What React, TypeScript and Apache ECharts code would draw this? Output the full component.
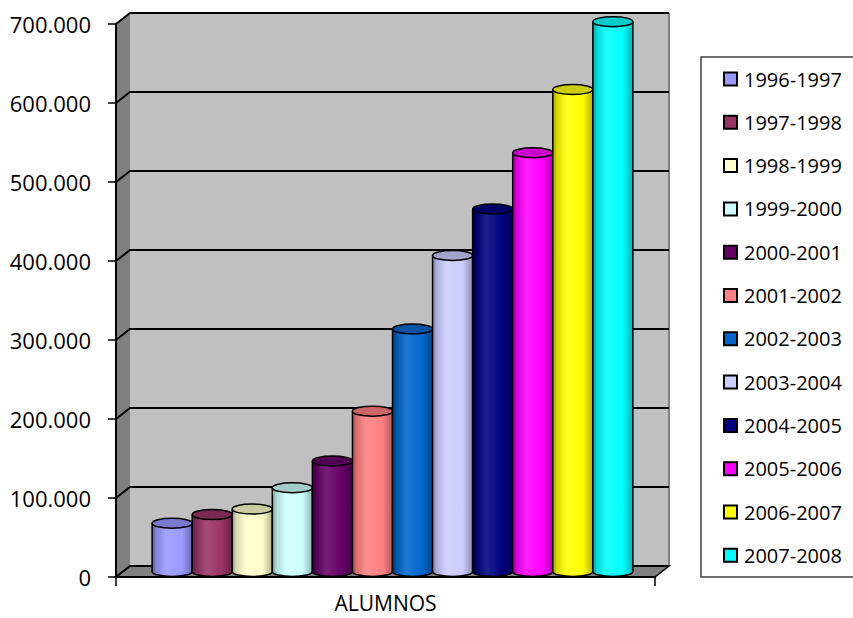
import React, { useEffect, useRef } from "react";
import * as echarts from "echarts";

// Enrolment per school year (units)
const years = [
  "1996-1997", "1997-1998", "1998-1999", "1999-2000", "2000-2001", "2001-2002",
  "2002-2003", "2003-2004", "2004-2005", "2005-2006", "2006-2007", "2007-2008",
];
const alumnos = [61000, 72000, 79000, 106000, 140000, 203000, 307000, 400000, 459000, 530000, 610000, 696000];
const barColors = [
  "#9999FF", "#993366", "#FFFFCC", "#CCFFFF", "#660066", "#FF8080",
  "#0066CC", "#CCCCFF", "#000080", "#FF00FF", "#FFFF00", "#00FFFF",
];
const categories = ["ALUMNOS"];
const yTicks = [0, 100000, 200000, 300000, 400000, 500000, 600000, 700000];

const Y_MAX = 700000;
const DX = 14; // depth offset of the back wall
const DY = -11;
const RY = 5; // half-height of the cylinder ellipses
const GROUP = 0.892; // share of the category band taken by the cylinders
const FONT = "Open Sans";

const mix = (hex: string, target: number, t: number) => {
  const n = parseInt(hex.slice(1), 16);
  const c = [(n >> 16) & 255, (n >> 8) & 255, n & 255].map((v) => Math.round(v + (target - v) * t));
  return `rgb(${c[0]},${c[1]},${c[2]})`;
};
const darken = (hex: string, t: number) => mix(hex, 0, t);
const lighten = (hex: string, t: number) => mix(hex, 255, t);

const fmt = (v: number) => String(v).replace(/\B(?=(\d{3})+(?!\d))/g, ".");

export default function App() {
  const ref = useRef<HTMLDivElement>(null);

  useEffect(() => {
    document.body.style.margin = "0";
    const chart = echarts.init(ref.current!, null, { renderer: "svg" });

    const wallSeries = {
      type: "custom",
      name: "walls",
      z: 1,
      clip: false,
      silent: true,
      data: [[0, 0]],
      itemStyle: { color: "#c0c0c0" },
      renderItem: (params: any, api: any) => {
        const cs = params.coordSys;
        const L = cs.x;
        const R = cs.x + cs.width;
        const yAt = (v: number) => api.coord([0, v])[1];
        const y0 = yAt(0);
        const yM = yAt(Y_MAX);
        const children: any[] = [
          {
            type: "rect",
            shape: { x: L + DX, y: yM + DY, width: R - L, height: y0 - yM },
            style: { fill: "#c0c0c0" },
          },
          {
            type: "line",
            shape: { x1: R + DX, y1: yM + DY, x2: R + DX, y2: y0 + DY },
            style: { stroke: "#808080", lineWidth: 2 },
          },
          {
            type: "polygon",
            shape: { points: [[L, yM], [L + DX, yM + DY], [L + DX, y0 + DY], [L, y0]] },
            style: { fill: "#808080" },
          },
          {
            type: "polygon",
            shape: { points: [[L, y0], [L + DX, y0 + DY], [R + DX, y0 + DY], [R, y0]] },
            style: { fill: "#808080", stroke: "#000", lineWidth: 1.5 },
          },
        ];
        yTicks.forEach((v) => {
          const y = yAt(v);
          children.push({
            type: "polyline",
            shape: { points: [[L, y], [L + DX, y + DY], [R + DX, y + DY]] },
            style: { stroke: "#000", lineWidth: 2, fill: null },
          });
        });
        return { type: "group", children };
      },
    };

    const cylinderSeries = years.map((name, i) => ({
      type: "custom",
      name,
      z: 3,
      clip: false,
      itemStyle: { color: barColors[i] },
      data: [[0, alumnos[i], i]],
      renderItem: (params: any, api: any) => {
        const idx = api.value(2);
        const color = barColors[idx];
        const band = api.size([1, 0])[0];
        const center = api.coord([0, 0])[0];
        const groupW = band * GROUP;
        const w = groupW / years.length;
        const x0 = center - groupW / 2 + idx * w + DX / 2;
        const rx = w / 2;
        const cx = x0 + rx;
        const yTop = api.coord([0, api.value(1)])[1] + DY / 2;
        const yBase = api.coord([0, 0])[1] + DY / 2;
        const body = new echarts.graphic.LinearGradient(0, 0, 1, 0, [
          { offset: 0, color: darken(color, 0.4) },
          { offset: 0.1, color: darken(color, 0.15) },
          { offset: 0.35, color: lighten(color, 0.12) },
          { offset: 0.75, color: color },
          { offset: 1, color: darken(color, 0.3) },
        ]);
        const edge = { stroke: "#000", lineWidth: 1.5 };
        return {
          type: "group",
          children: [
            { type: "ellipse", shape: { cx, cy: yBase, rx, ry: RY }, style: { fill: body, ...edge } },
            { type: "rect", shape: { x: x0, y: yTop, width: w, height: yBase - yTop }, style: { fill: body } },
            { type: "line", shape: { x1: x0, y1: yTop, x2: x0, y2: yBase }, style: edge },
            { type: "line", shape: { x1: x0 + w, y1: yTop, x2: x0 + w, y2: yBase }, style: edge },
            { type: "ellipse", shape: { cx, cy: yTop, rx, ry: RY }, style: { fill: darken(color, 0.2), ...edge } },
          ],
        };
      },
    }));

    chart.setOption({
      animation: false,
      color: barColors,
      textStyle: { fontFamily: FONT },
      grid: { left: 116, right: 198, top: 24, bottom: 41, containLabel: false },
      xAxis: {
        type: "category",
        data: categories,
        z: 10,
        axisLine: { lineStyle: { color: "#000", width: 2 } },
        axisTick: { show: true, length: 9, lineStyle: { color: "#000", width: 1.5 } },
        axisLabel: { color: "#000", fontSize: 21, lineHeight: 16, fontFamily: FONT, margin: 18 },
      },
      yAxis: {
        type: "value",
        min: 0,
        max: Y_MAX,
        interval: 100000,
        z: 10,
        splitLine: { show: false },
        axisLine: { show: true, lineStyle: { color: "#000", width: 2 } },
        axisTick: { show: true, length: 8, lineStyle: { color: "#000", width: 1.5 } },
        axisLabel: { color: "#000", fontSize: 22, fontFamily: FONT, margin: 25, formatter: (v: number) => fmt(v) },
      },
      legend: {
        orient: "vertical",
        left: 723,
        top: 69,
        padding: 0,
        icon: "rect",
        itemWidth: 13,
        itemHeight: 13,
        itemGap: 23.3,
        selectedMode: false,
        data: years,
        itemStyle: { borderColor: "#000", borderWidth: 2 },
        textStyle: { color: "#000", fontSize: 20, lineHeight: 20, fontFamily: FONT, padding: [0, 0, 0, 2] },
      },
      graphic: [
        {
          type: "rect",
          shape: { x: 701, y: 57, width: 200, height: 520 },
          style: { fill: "none", stroke: "#404040", lineWidth: 1.5 },
        },
      ],
      series: [wallSeries, ...cylinderSeries],
    });

    return () => chart.dispose();
  }, []);

  return <div ref={ref} style={{ width: 853, height: 618 }} />;
}
